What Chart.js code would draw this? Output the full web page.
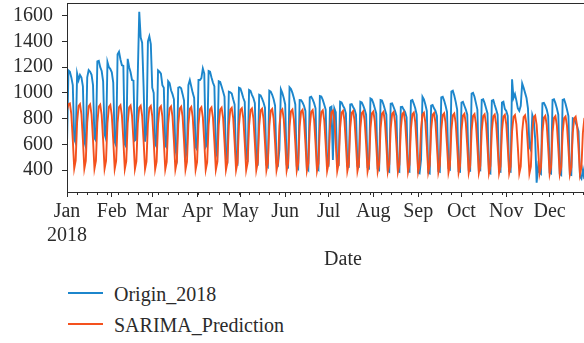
<!DOCTYPE html>
<html>
<head>
<meta charset="utf-8">
<title>Origin_2018 vs SARIMA_Prediction</title>
<script src="https://cdn.jsdelivr.net/npm/chart.js@4.4.1/dist/chart.umd.min.js"></script>
<style>
  html, body { margin: 0; padding: 0; background: #fff; width: 584px; height: 343px; overflow: hidden; }
  #plot { position: absolute; left: 0; top: 0; }
  .swatch { position: absolute; left: 68px; width: 35px; height: 2px; }
  .label { position: absolute; left: 114px; font: 20px/24px "Liberation Serif", serif; color: #2b2b2b; white-space: nowrap; }
</style>
</head>
<body>
<canvas id="plot" width="620" height="272"></canvas>
<div class="swatch" style="top:292px;background:#1c86cc"></div>
<div class="label" style="top:282px">Origin_2018</div>
<div class="swatch" style="top:323px;background:#f4511e"></div>
<div class="label" style="top:313px">SARIMA_Prediction</div>
<script>
// Daily values for 2018, one row per week (Monday .. Sunday); last entry is Mon 31 Dec.
const origin2018 = [
  600, 1175, 1165, 1120, 1060, 640, 610,
  1150, 1100, 1140, 1120, 1050, 620, 580,
  1120, 1178, 1165, 1140, 1060, 650, 630,
  1245, 1250, 1200, 1170, 1090, 680, 640,
  1240, 1200, 1185, 1160, 1080, 620, 590,
  1300, 1320, 1260, 1215, 1210, 600, 580,
  1265, 1200, 1160, 1100, 1095, 630, 640,
  1150, 1630, 1430, 1390, 1050, 620, 700,
  1400, 1440, 1380, 1040, 1000, 600, 580,
  1175, 1165, 1150, 1060, 1040, 590, 575,
  1090, 1075, 1020, 990, 950, 560, 505,
  1040, 1045, 1035, 990, 940, 505, 540,
  1060, 1100, 1050, 1000, 960, 580, 560,
  1100, 1100, 1115, 1190, 1150, 580, 600,
  1170, 1165, 1120, 1080, 1050, 540, 505,
  1090, 1085, 1050, 1010, 970, 500, 478,
  1010, 1005, 995, 950, 910, 470, 453,
  1040, 1035, 1000, 960, 930, 490, 478,
  1022, 1015, 985, 960, 920, 470, 453,
  985, 980, 955, 925, 885, 440, 426,
  1017, 1010, 985, 950, 900, 455, 440,
  560, 1028, 1000, 960, 910, 440, 426,
  1043, 1030, 1000, 960, 910, 430, 413,
  945, 944, 925, 900, 860, 415, 400,
  965, 970, 950, 920, 880, 410, 400,
  975, 972, 945, 910, 870, 450, 440,
  885, 892, 478, 880, 850, 445, 440,
  931, 925, 900, 880, 840, 430, 426,
  910, 913, 890, 870, 830, 430, 426,
  931, 925, 900, 870, 830, 420, 413,
  957, 950, 920, 880, 840, 410, 400,
  944, 940, 910, 870, 830, 395, 387,
  915, 918, 890, 860, 820, 392, 387,
  890, 892, 870, 850, 810, 390, 387,
  940, 944, 915, 880, 830, 380, 374,
  480, 970, 950, 910, 860, 380, 374,
  900, 905, 880, 860, 820, 392, 387,
  965, 970, 940, 900, 850, 413, 405,
  1010, 1017, 980, 930, 870, 390, 387,
  925, 931, 900, 870, 830, 400, 395,
  995, 1001, 970, 920, 870, 400, 398,
  945, 950, 920, 880, 840, 380, 374,
  940, 944, 905, 870, 830, 390, 387,
  925, 931, 875, 860, 820, 390, 387,
  1105, 960, 990, 940, 880, 860, 900,
  1074, 1040, 1000, 960, 880, 580, 555,
  828, 790, 640, 301, 430, 380, 370,
  920, 923, 900, 870, 820, 380, 374,
  945, 950, 920, 880, 830, 370, 361,
  945, 950, 915, 870, 820, 365, 361,
  802, 795, 770, 740, 700, 350, 333,
  400, 330, 620, 700, 650, 345, 340,
  480
];

const sarimaPrediction = [
  865, 912, 918, 835, 638, 412, 472,
  772, 897, 912, 832, 636, 411, 471,
  770, 895, 910, 830, 635, 410, 470,
  769, 893, 908, 828, 634, 410, 470,
  767, 891, 906, 826, 633, 409, 469,
  766, 890, 905, 825, 632, 408, 468,
  764, 888, 903, 824, 631, 408, 467,
  763, 886, 901, 822, 629, 407, 466,
  761, 884, 899, 820, 628, 406, 465,
  759, 882, 897, 818, 626, 405, 464,
  758, 880, 895, 817, 626, 405, 464,
  756, 878, 893, 815, 624, 404, 463,
  754, 876, 891, 813, 623, 403, 462,
  753, 874, 889, 811, 621, 402, 460,
  751, 872, 887, 809, 620, 402, 460,
  749, 870, 885, 808, 619, 401, 459,
  748, 869, 883, 806, 617, 400, 458,
  746, 867, 881, 804, 616, 399, 457,
  745, 865, 879, 802, 615, 399, 457,
  743, 863, 877, 800, 614, 398, 455,
  741, 861, 875, 799, 612, 397, 454,
  739, 859, 873, 797, 611, 396, 453,
  738, 857, 871, 795, 610, 396, 453,
  736, 855, 869, 793, 608, 395, 452,
  735, 853, 867, 791, 607, 394, 451,
  733, 851, 865, 789, 605, 393, 450,
  731, 849, 863, 788, 604, 392, 449,
  729, 847, 861, 786, 603, 391, 447,
  728, 845, 859, 784, 601, 390, 446,
  726, 843, 857, 782, 600, 389, 445,
  724, 841, 855, 780, 598, 388, 444,
  723, 839, 853, 778, 597, 387, 443,
  721, 837, 851, 777, 595, 386, 442,
  719, 835, 849, 775, 594, 385, 441,
  717, 833, 847, 773, 592, 384, 440,
  716, 831, 845, 771, 591, 383, 438,
  714, 829, 843, 769, 589, 382, 437,
  712, 827, 841, 767, 588, 381, 436,
  710, 825, 839, 766, 587, 380, 435,
  709, 823, 837, 764, 585, 379, 434,
  707, 821, 835, 762, 584, 378, 433,
  705, 819, 833, 760, 582, 377, 432,
  704, 817, 831, 758, 581, 376, 431,
  702, 815, 829, 756, 579, 375, 429,
  700, 813, 827, 755, 578, 374, 428,
  698, 811, 825, 753, 576, 372, 426,
  696, 809, 823, 751, 574, 371, 425,
  695, 807, 821, 749, 573, 370, 424,
  693, 805, 819, 747, 571, 368, 422,
  691, 803, 817, 745, 570, 367, 421,
  689, 801, 815, 743, 568, 366, 420,
  688, 800, 813, 741, 567, 365, 419,
  686
];

// Day-of-year index of the first day of each month, and its label
const monthStarts = [0, 31, 59, 90, 120, 151, 181, 212, 243, 273, 304, 334];
const monthLabels = ['Jan', 'Feb', 'Mar', 'Apr', 'May', 'Jun', 'Jul', 'Aug', 'Sep', 'Oct', 'Nov', 'Dec'];
const yearLabel = '2018';
const yTicks = [400, 600, 800, 1000, 1200, 1400, 1600];

const INK = '#2b2b2b';
const FONT = { family: '"Liberation Serif", serif', size: 20 };

const toPoints = arr => arr.map((v, i) => ({ x: i, y: v }));

// Frame around the plotting area plus weekly (Monday) minor ticks on the date axis
const framePlugin = {
  id: 'frame',
  afterDraw(chart) {
    const { ctx, chartArea: a, scales } = chart;
    ctx.save();
    ctx.strokeStyle = INK;
    ctx.lineWidth = 1;
    ctx.strokeRect(Math.round(a.left) + 0.5, Math.round(a.top) + 0.5,
                   Math.round(a.right - a.left), Math.round(a.bottom - a.top));
    ctx.beginPath();
    for (let d = 0; d < origin2018.length; d += 7) {
      if (monthStarts.includes(d)) continue;
      const px = Math.round(scales.x.getPixelForValue(d)) + 0.5;
      ctx.moveTo(px, a.bottom);
      ctx.lineTo(px, a.bottom + 3);
    }
    ctx.stroke();
    ctx.restore();
  }
};

// Keep the axis boxes at fixed sizes so the plotting area sits where intended
const fixBox = (s, w, h) => {
  if (w !== null) s.width = w;
  if (h !== null) s.height = h;
  s.paddingTop = 0; s.paddingBottom = 0; s.paddingLeft = 0; s.paddingRight = 0;
};

new Chart(document.getElementById('plot'), {
  type: 'line',
  data: {
    datasets: [
      {
        label: 'Origin_2018',
        data: toPoints(origin2018),
        borderColor: '#1c86cc',
        borderWidth: 1.9,
        pointRadius: 0,
        tension: 0,
        order: 2
      },
      {
        label: 'SARIMA_Prediction',
        data: toPoints(sarimaPrediction),
        borderColor: '#f4511e',
        borderWidth: 1.9,
        pointRadius: 0,
        tension: 0,
        order: 1
      }
    ]
  },
  options: {
    responsive: false,
    animation: false,
    devicePixelRatio: 1,
    layout: { padding: { left: 0, top: 3, right: 1, bottom: 0 } },
    plugins: { legend: { display: false }, tooltip: { enabled: false } },
    scales: {
      x: {
        type: 'linear',
        min: 0,
        max: 382,
        afterBuildTicks: s => { s.ticks = monthStarts.map(v => ({ value: v })); },
        afterFit: s => fixBox(s, null, 80),
        ticks: {
          autoSkip: false,
          maxRotation: 0,
          padding: 3,
          color: INK,
          font: FONT,
          callback: (v, i) => i === 0 ? [monthLabels[0], yearLabel] : monthLabels[i]
        },
        grid: { drawOnChartArea: false, drawTicks: true, tickLength: 5, color: INK },
        border: { display: true, color: INK, width: 1 },
        title: { display: true, text: 'Date', color: INK, font: FONT, padding: 0 }
      },
      y: {
        min: 229,
        max: 1699,
        afterBuildTicks: s => { s.ticks = yTicks.map(v => ({ value: v })); },
        afterFit: s => fixBox(s, 67, null),
        ticks: { color: INK, font: FONT, padding: 9, callback: v => String(v) },
        grid: { drawOnChartArea: false, drawTicks: true, tickLength: 5, color: INK },
        border: { display: true, color: INK, width: 1 }
      }
    }
  },
  plugins: [framePlugin]
});
</script>
</body>
</html>
